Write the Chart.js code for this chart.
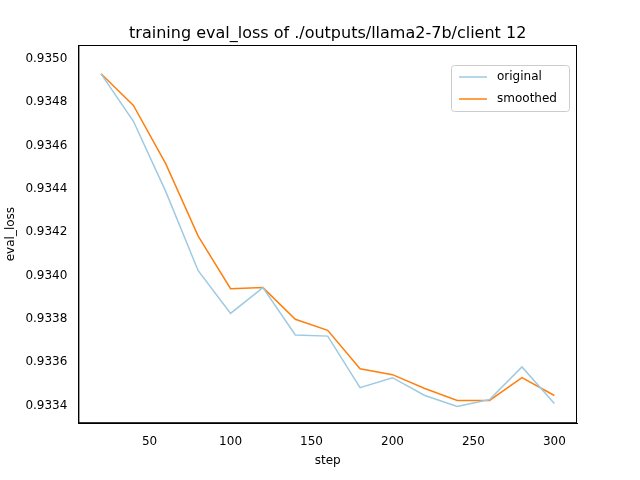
<!DOCTYPE html>
<html><head><script src="https://cdn.jsdelivr.net/npm/chart.js@4"></script>
<style>body{margin:0;background:#fff}</style></head>
<body><div style="width:640px;height:480px"><canvas id="c" width="640" height="480"></canvas></div>
<script>
const steps=[20,40,60,80,100,120,140,160,180,200,220,240,260,280,300];
const original=[0.934931,0.934712,0.934387,0.934022,0.933825,0.933944,0.933725,0.933720,0.933482,0.933528,0.933446,0.933395,0.933427,0.933578,0.933409];
const smoothed=[0.934931,0.934785,0.934515,0.934182,0.933939,0.933944,0.933798,0.933747,0.933569,0.933542,0.933478,0.933423,0.933423,0.933528,0.933446];
const xTicks=[50,100,150,200,250,300];
const yTicks=[0.9334,0.9336,0.9338,0.9340,0.9342,0.9344,0.9346,0.9348,0.9350];
const titleText='training eval_loss of ./outputs/llama2-7b/client 12';
const pts=a=>a.map((v,i)=>({x:steps[i],y:v}));
Chart.defaults.font.family='DejaVu Sans';Chart.defaults.color='#000';
const deco={id:'deco',afterDraw(ch){const c=ch.ctx,a=ch.chartArea;c.save();
c.strokeStyle='#000';c.lineWidth=1;c.strokeRect(a.left+0.5,a.top+0.5,a.right-a.left-1,a.bottom-a.top-1);
c.fillStyle='#000';c.font='16px DejaVu Sans';c.textAlign='center';c.textBaseline='alphabetic';
c.fillText(titleText,(a.left+a.right)/2,a.top-7);
const lx=a.right-126,ly=a.top+20,w=118,h=46;
c.fillStyle='rgba(255,255,255,0.8)';c.strokeStyle='#ccc';c.beginPath();c.roundRect(lx+0.5,ly+0.5,w,h,3);c.fill();c.stroke();
c.font='12px DejaVu Sans';c.textAlign='left';c.textBaseline='middle';
ch.data.datasets.forEach((d,i)=>{const y=ly+12+i*22;c.strokeStyle=d.borderColor;c.lineWidth=1.5;c.beginPath();c.moveTo(lx+8,y);c.lineTo(lx+36,y);c.stroke();c.fillStyle='#000';c.fillText(d.label,lx+46,y);});
c.restore();}};
new Chart(document.getElementById('c'),{type:'line',
data:{datasets:[
{label:'original',data:pts(original),borderColor:'#9ecae1',backgroundColor:'#9ecae1',borderWidth:1.5,pointRadius:0,tension:0},
{label:'smoothed',data:pts(smoothed),borderColor:'#ff7f0e',backgroundColor:'#ff7f0e',borderWidth:1.5,pointRadius:0,tension:0}]},
options:{responsive:false,animation:false,
layout:{padding:{left:0,right:63,top:45,bottom:8}},
plugins:{title:{display:false},legend:{display:false}},
scales:{
x:{type:'linear',min:6,max:314,title:{display:true,text:'step',font:{size:12},padding:{top:2}},grid:{display:false},border:{color:'#000'},ticks:{font:{size:12}},afterBuildTicks:s=>{s.ticks=xTicks.map(v=>({value:v}))}},
y:{min:0.933318,max:0.935064,title:{display:true,text:'eval_loss',font:{size:12}},grid:{display:false},border:{color:'#000'},ticks:{font:{size:12},callback:v=>v.toFixed(4)},afterBuildTicks:s=>{s.ticks=yTicks.map(v=>({value:v}))}}}},
plugins:[deco]});
</script></body></html>
